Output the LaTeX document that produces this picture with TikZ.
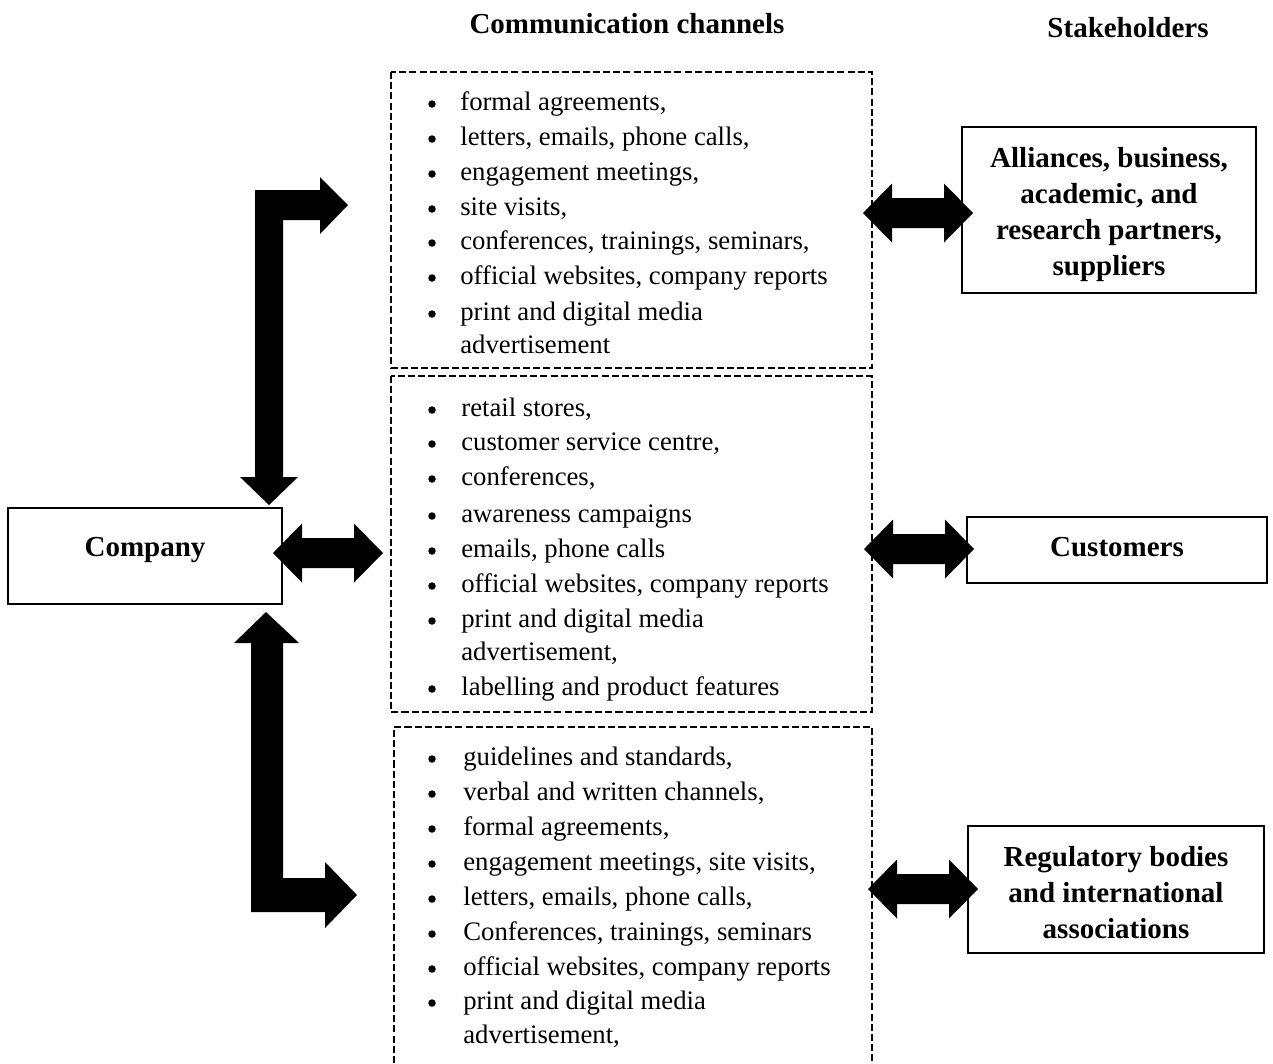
\documentclass[tikz,border=0pt]{standalone}
\usepackage{fontspec}
\setmainfont{Liberation Serif}
\begin{document}
\begin{tikzpicture}[x=0.02cm,y=-0.02cm,
  chanbox/.style={line width=1.1pt,dash pattern=on 4pt off 1.8pt},
  holder/.style={draw,line width=1.1pt,inner sep=0pt},
  holdertext/.style={align=center,inner sep=0pt,
    font=\bfseries\fontsize{16.5}{20.5}\selectfont},
  heading/.style={font=\bfseries\fontsize{16.5}{20}\selectfont},
  item/.style={anchor=mid west,inner sep=0pt,yshift=-0.08cm,
    font=\fontsize{15.2}{19}\selectfont},
  dot/.style={circle,fill,inner sep=0pt,minimum size=0.15cm,yshift=-0.04cm},
  dblarrow/.pic={\fill (-55,0) -- (-26,-29.5) -- (-26,-15) -- (26,-15) -- (26,-29.5)
     -- (55,0) -- (26,29.5) -- (26,15) -- (-26,15) -- (-26,29.5) -- cycle;}]
\useasboundingbox (0,0) rectangle (1273,1063);

% headings
\node[heading] (hchan) at (627,24) {Communication channels};
\node[heading] (hstake) at (1128,28) {Stakeholders};

% channel boxes
\draw[chanbox] (391,72) rectangle (872,368);
\draw[chanbox] (391,376) rectangle (872,712);
\draw[chanbox] (394,1063) -- (394,727) -- (872,727) -- (872,1063);

% channel lists
\foreach \yy/\txt in {102/{formal agreements,},137/{letters, emails, phone calls,},
  172/{engagement meetings,},207/{site visits,},241/{conferences, trainings, seminars,},
  276/{official websites, company reports},312/{print and digital media}}{
  \node[dot] at (432,\yy) {};
  \node[item] at (460,\yy) {\txt};}
\node[item] (c1last) at (460,345) {advertisement};

\foreach \yy/\txt in {408/{retail stores,},442/{customer service centre,},
  477/{conferences,},514/{awareness campaigns},549/{emails, phone calls},
  584/{official websites, company reports},619/{print and digital media},
  687/{labelling and product features}}{
  \node[dot] at (432,\yy) {};
  \node[item] at (461,\yy) {\txt};}
\node[item] (c2adv) at (461,652) {advertisement,};

\foreach \yy/\txt in {757/{guidelines and standards,},792/{verbal and written channels,},
  827/{formal agreements,},862/{engagement meetings, site visits,},
  897/{letters, emails, phone calls,},932/{Conferences, trainings, seminars},
  967/{official websites, company reports},1001/{print and digital media}}{
  \node[dot] at (432,\yy) {};
  \node[item] at (463,\yy) {\txt};}
\node[item] (c3adv) at (463,1035) {advertisement,};

% company
\node[holder,line width=1pt,minimum width=5.48cm,minimum height=1.92cm] (company) at (145,556) {};
\node[heading] (companytxt) at (145,550) {Company};

% stakeholders
\node[holder,minimum width=5.88cm,minimum height=3.32cm] (alliances) at (1109,210) {};
\node[holdertext] (alliancestxt) at ([yshift=-0.09cm]alliances.center)
  {Alliances, business,\\academic, and\\research partners,\\suppliers};
\node[holder,minimum width=6.0cm,minimum height=1.32cm] (customers) at (1117,550) {};
\node[holdertext] (customerstxt) at ([yshift=0.05cm]customers.center) {Customers};
\node[holder,minimum width=5.92cm,minimum height=2.54cm] (regulators) at (1116,889.5) {};
\node[holdertext] (regulatorstxt) at ([yshift=-0.06cm]regulators.center)
  {Regulatory bodies\\and international\\associations};

% block arrows from the company to the upper and lower channels
\fill (255,190) -- (320,190) -- (320,177) -- (348,205) -- (320,234) -- (320,220)
  -- (283,220) -- (283,477) -- (298,477) -- (269,505) -- (240,477) -- (255,477) -- cycle;
\fill (266,612) -- (299,643) -- (283,643) -- (283,878) -- (325,878) -- (325,862)
  -- (357,895) -- (325,928) -- (325,912) -- (251,912) -- (251,643) -- (234,643) -- cycle;

% two-way arrows
\pic at (328,553) {dblarrow};
\pic at (918,213) {dblarrow};
\pic at (919,549) {dblarrow};
\pic at (923,889) {dblarrow};
\end{tikzpicture}
\end{document}
